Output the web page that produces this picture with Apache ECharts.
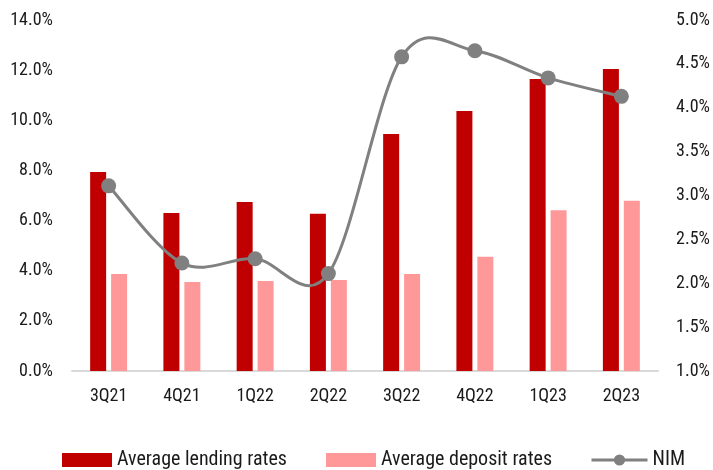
<!DOCTYPE html>
<html>
<head>
<meta charset="utf-8">
<script src="https://cdn.jsdelivr.net/npm/echarts@6/dist/echarts.min.js"></script>
<style>html,body{margin:0;padding:0;background:#fff}#c{width:713px;height:470px}</style>
</head>
<body>
<div id="c"></div>
<script>
const categories = ['3Q21','4Q21','1Q22','2Q22','3Q22','4Q22','1Q23','2Q23'];
const lendingRates = [7.94, 6.30, 6.74, 6.27, 9.45, 10.37, 11.65, 12.05];
const depositRates = [3.87, 3.55, 3.59, 3.63, 3.87, 4.56, 6.41, 6.79];
const nim = [3.11, 2.23, 2.28, 2.11, 4.58, 4.65, 4.34, 4.13];

const FONT = '"Liberation Sans Narrow", "Arial Narrow", "Roboto Condensed", sans-serif';
const chart = echarts.init(document.getElementById('c'), null, {renderer: 'canvas'});
const legendText = {fontFamily: FONT, fontSize: 20, color: '#1a1a1a'};

// Excel-like (Catmull-Rom) smoothed line through the NIM points, drawn via axis coords
function renderNimCurve(params, api) {
  if (params.dataIndex !== 0) return null;
  const pts = nim.map((v, i) => api.coord([i, v]));
  const n = pts.length;
  let d = 'M' + pts[0][0] + ' ' + pts[0][1];
  for (let i = 0; i < n - 1; i++) {
    const p0 = pts[Math.max(i - 1, 0)], p1 = pts[i], p2 = pts[i + 1], p3 = pts[Math.min(i + 2, n - 1)];
    const c1x = p1[0] + (p2[0] - p0[0]) / 6, c1y = p1[1] + (p2[1] - p0[1]) / 6;
    const c2x = p2[0] - (p3[0] - p1[0]) / 6, c2y = p2[1] - (p3[1] - p1[1]) / 6;
    d += ' C' + c1x + ' ' + c1y + ' ' + c2x + ' ' + c2y + ' ' + p2[0] + ' ' + p2[1];
  }
  return {type: 'path', shape: {pathData: d}, style: {fill: null, stroke: '#808080', lineWidth: 3, lineCap: 'round', lineJoin: 'round'}, silent: true};
}

chart.setOption({
  animation: false,
  textStyle: {fontFamily: FONT},
  grid: {left: 72, right: 55, top: 20, bottom: 99},
  legend: [
    {data: ['Average lending rates'], left: 62, top: 450, padding: 0, itemWidth: 50, itemHeight: 14, icon: 'rect', textStyle: legendText},
    {data: ['Average deposit rates'], left: 326, top: 450, padding: 0, itemWidth: 50, itemHeight: 14, icon: 'rect', textStyle: legendText},
    {data: [{name: 'NIM'}], left: 590, top: 450, padding: 0, itemWidth: 56, itemHeight: 14, textStyle: legendText,
     lineStyle: {color: '#808080', width: 3, opacity: 1}, itemStyle: {color: '#808080'}}
  ],
  xAxis: {
    type: 'category',
    data: categories,
    axisLine: {lineStyle: {color: '#d9d9d9', width: 2}},
    axisTick: {show: false},
    axisLabel: {fontFamily: FONT, fontSize: 18, color: '#1a1a1a', margin: 16}
  },
  yAxis: [
    {
      type: 'value', min: 0, max: 14, interval: 2,
      axisLine: {show: false}, axisTick: {show: false}, splitLine: {show: false},
      axisLabel: {fontFamily: FONT, fontSize: 18, color: '#1a1a1a', margin: 19, formatter: v => v.toFixed(1) + '%'}
    },
    {
      type: 'value', min: 1, max: 5, interval: 0.5,
      axisLine: {show: false}, axisTick: {show: false}, splitLine: {show: false},
      axisLabel: {fontFamily: FONT, fontSize: 18, color: '#1a1a1a', margin: 18, formatter: v => v.toFixed(1) + '%'}
    }
  ],
  series: [
    {name: 'Average lending rates', type: 'bar', data: lendingRates, barWidth: 16, barGap: '31%',
     itemStyle: {color: '#c00000'}},
    {name: 'Average deposit rates', type: 'bar', data: depositRates, barWidth: 16,
     itemStyle: {color: '#ff9999'}},
    {name: 'NIM curve', type: 'custom', yAxisIndex: 1, data: nim.map((v, i) => [i, v]),
     encode: {x: 0, y: 1}, renderItem: renderNimCurve, z: 3, clip: false},
    {name: 'NIM', type: 'line', yAxisIndex: 1, data: nim,
     symbol: 'circle', symbolSize: 15, z: 4,
     lineStyle: {color: '#808080', width: 3, opacity: 0}, itemStyle: {color: '#808080'}}
  ]
});
</script>
</body>
</html>
